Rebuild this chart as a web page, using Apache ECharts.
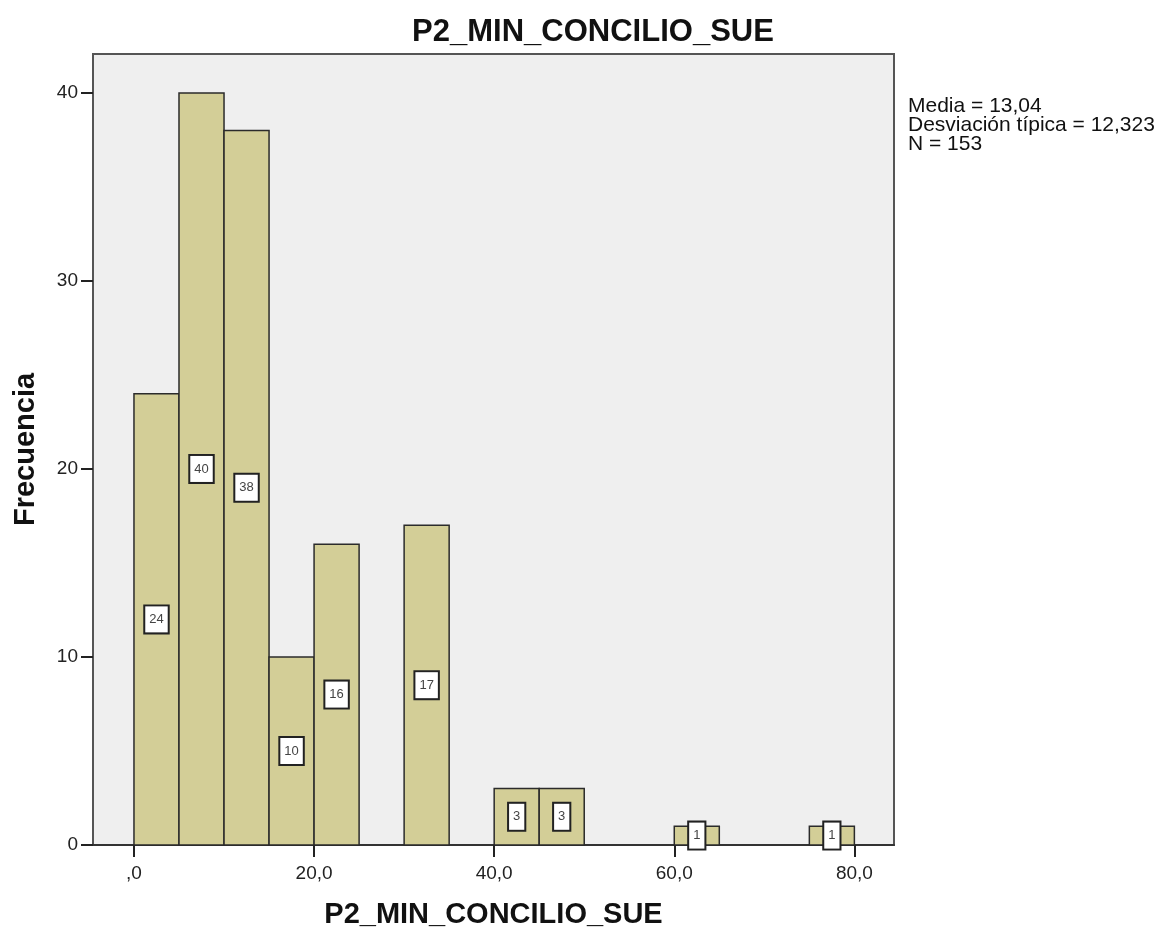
<!DOCTYPE html>
<html>
<head>
<meta charset="utf-8">
<script src="https://cdn.jsdelivr.net/npm/echarts@6/dist/echarts.min.js"></script>
<style>
  html, body { margin: 0; padding: 0; background: #fff; }
  #main { width: 1160px; height: 937px; }
</style>
</head>
<body>
<div id="main"></div>
<script>
// datos del histograma
let binStart = [0, 5, 10, 15, 20, 25, 30, 35, 40, 45, 50, 55, 60, 65, 70, 75];
let counts = [24, 40, 38, 10, 16, 0, 17, 0, 3, 3, 0, 0, 1, 0, 0, 1];
let binWidth = 5;
let xTicks = [0, 20, 40, 60, 80];
let yTicks = [0, 10, 20, 30, 40];
let statLines = ['Media = 13,04', 'Desviación típica = 12,323', 'N = 153'];

let font = '"Liberation Sans", Arial, sans-serif';

let data = [];
binStart.forEach((s, i) => {
    if (counts[i] > 0) {
        data.push([s, s + binWidth, counts[i]]);
    }
});

function renderBar(params, api) {
    let start = api.coord([api.value(0), api.value(2)]);
    let end = api.coord([api.value(1), 0]);
    let mid = api.coord([(api.value(0) + api.value(1)) / 2, api.value(2) / 2]);
    return {
        type: 'group',
        children: [
            {
                type: 'rect',
                shape: { x: start[0], y: start[1], width: end[0] - start[0], height: end[1] - start[1] },
                style: { fill: '#d3ce97', stroke: '#2b2b2b', lineWidth: 1.5 }
            },
            {
                type: 'text',
                z2: 10,
                x: mid[0],
                y: mid[1],
                style: {
                    text: String(api.value(2)),
                    align: 'center',
                    verticalAlign: 'middle',
                    font: '13px ' + font,
                    fill: '#444',
                    backgroundColor: '#fff',
                    borderColor: '#222',
                    borderWidth: 2,
                    padding: [6, 4],
                    lineHeight: 14
                }
            }
        ]
    };
}

let chart = echarts.init(document.getElementById('main'));

chart.setOption({
    animation: false,
    backgroundColor: '#fff',
    title: {
        text: 'P2_MIN_CONCILIO_SUE',
        left: 588,
        top: 12,
        textAlign: 'center',
        textStyle: { fontFamily: font, fontSize: 31, fontWeight: 'bold', color: '#111' }
    },
    graphic: [{
        type: 'text',
        left: 908,
        top: 96,
        style: {
            text: statLines.join('\n'),
            font: '21px ' + font,
            lineHeight: 19,
            fill: '#111'
        }
    }],
    grid: {
        left: 93,
        right: 266,
        top: 54,
        bottom: 92,
        outerBoundsMode: 'none',
        containLabel: false,
        show: true,
        backgroundColor: '#efefef',
        borderColor: '#555',
        borderWidth: 2
    },
    xAxis: {
        type: 'value',
        min: -4.55,
        max: 84.4,
        name: 'P2_MIN_CONCILIO_SUE',
        nameLocation: 'middle',
        nameGap: 55,
        nameTextStyle: { fontFamily: font, fontSize: 29, fontWeight: 'bold', color: '#111' },
        splitLine: { show: false },
        axisLine: { show: true, onZero: false, lineStyle: { color: '#333', width: 2 } },
        axisTick: { show: true, customValues: xTicks, length: 12, lineStyle: { color: '#222', width: 2 } },
        axisLabel: {
            customValues: xTicks,
            margin: 19,
            fontFamily: font,
            fontSize: 19,
            color: '#222',
            formatter: v => v === 0 ? ',0' : v.toFixed(1).replace('.', ',')
        }
    },
    yAxis: {
        type: 'value',
        min: 0,
        max: 42.07,
        name: 'Frecuencia',
        nameLocation: 'middle',
        nameRotate: 90,
        nameGap: 53,
        nameTextStyle: { fontFamily: font, fontSize: 29, fontWeight: 'bold', color: '#111' },
        splitLine: { show: false },
        axisLine: { show: true, onZero: false, lineStyle: { color: '#555', width: 2 } },
        axisTick: { show: true, customValues: yTicks, length: 12, lineStyle: { color: '#222', width: 2 } },
        axisLabel: {
            customValues: yTicks,
            margin: 15,
            fontFamily: font,
            fontSize: 19,
            color: '#222'
        }
    },
    series: [{
        type: 'custom',
        renderItem: renderBar,
        encode: { x: [0, 1], y: 2 },
        data: data
    }]
});
</script>
</body>
</html>
